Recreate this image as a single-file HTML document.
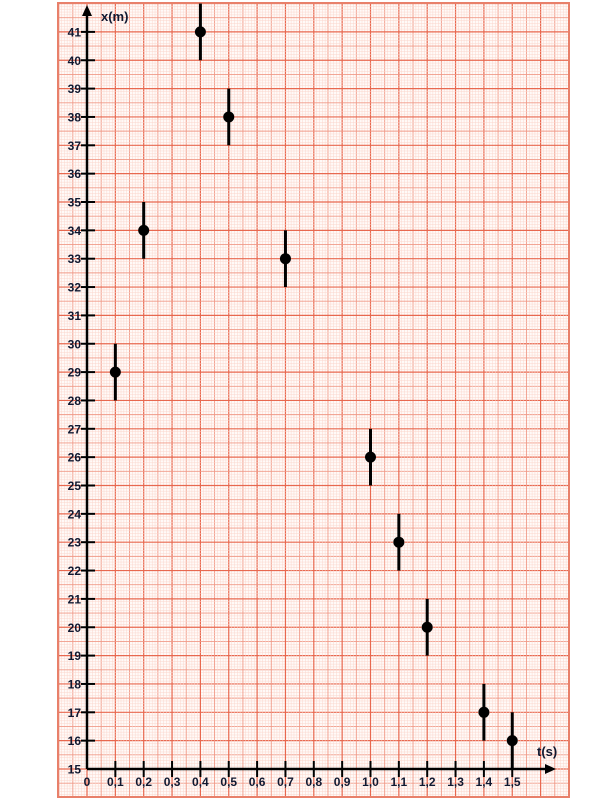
<!DOCTYPE html>
<html><head><meta charset="utf-8"><style>
body{margin:0;background:#fff;width:600px;height:800px;overflow:hidden}
text{font-family:"Liberation Sans",sans-serif;font-weight:bold;fill:#101830}
</style></head><body>
<svg id="c" width="600" height="800" xmlns="http://www.w3.org/2000/svg">
<defs><clipPath id="pc"><rect x="58" y="3" width="511" height="794"/></clipPath></defs>
<g id="grid" clip-path="url(#pc)"></g>
<rect x="58" y="3" width="511" height="794" fill="none" stroke="#e8806a" stroke-width="2"/>
<g id="axes"></g>
<g id="marks" clip-path="url(#pc)"></g>
</svg>
<script>
const tValues=[0.1,0.2,0.4,0.5,0.7,1.0,1.1,1.2,1.4,1.5];
const xValues=[29,34,41,38,33,26,23,20,17,16];
const errValues=[1,1,1,1,1,1,1,1,1,1];
const xTickLabels=["0","0,1","0,2","0,3","0,4","0,5","0,6","0,7","0,8","0,9","1,0","1,1","1,2","1,3","1,4","1,5"];
const yTickLabels=["15","16","17","18","19","20","21","22","23","24","25","26","27","28","29","30","31","32","33","34","35","36","37","38","39","40","41"];
const X0=87,Y0=769,U=28.35;
const sx=t=>X0+t/0.1*U, sy=v=>Y0-(v-15)*U;
const NS="http://www.w3.org/2000/svg";
function mk(tag,a,p){const e=document.createElementNS(NS,tag);for(const k in a)e.setAttribute(k,a[k]);p.appendChild(e);return e;}
const g=document.getElementById('grid');
mk('rect',{x:58,y:3,width:511,height:794,fill:'#fffaf8'},g);
function st(i){return i%10==0?{c:'#e8684f',w:1.2}:i%5==0?{c:'#f09a88',w:0.9}:{c:'#fbd6cc',w:0.5};}
for(let i=-12;i<=300;i++){
  const s=st(((i%10)+10)%10);
  const x=X0+i*U/10;
  if(x>=56&&x<=571){const l=mk('line',{x1:x,y1:0,x2:x,y2:800,stroke:s.c,'stroke-width':s.w},g);}
  const y=Y0-i*U/10;
  if(y>=0&&y<=800){const l=mk('line',{x1:0,y1:y,x2:600,y2:y,stroke:s.c,'stroke-width':s.w},g);}
}
const a=document.getElementById('axes');
let e=mk('line',{x1:X0,y1:Y0,x2:X0,y2:12,stroke:'#000','stroke-width':2.5},a);

mk('polygon',{points:`${X0},5 ${X0-5},16 ${X0+5},16`,fill:'#000'},a);
e=mk('line',{x1:X0,y1:Y0,x2:548,y2:Y0,stroke:'#000','stroke-width':2.5},a);

mk('polygon',{points:`556,${Y0} 545,${Y0-5} 545,${Y0+5}`,fill:'#000'},a);
yTickLabels.forEach((lb,i)=>{const y=sy(15+i);
  if(i>0)mk('line',{x1:X0-6,y1:y,x2:X0+8,y2:y,stroke:'#000','stroke-width':2},a);
  const t=mk('text',{x:X0-6,y:y+4.5,'text-anchor':'end','font-size':12},a);t.textContent=lb;
  });
xTickLabels.forEach((lb,i)=>{const x=sx(i*0.1);
  if(i>0)mk('line',{x1:x,y1:Y0-8,x2:x,y2:Y0+8,stroke:'#000','stroke-width':2},a);
  const t=mk('text',{x:x,y:Y0+17,'text-anchor':'middle','font-size':12},a);t.textContent=lb;
  });
let t=mk('text',{x:101,y:21,'font-size':13},a);t.textContent='x(m)';

t=mk('text',{x:537,y:756,'font-size':13},a);t.textContent='t(s)';

const m=document.getElementById('marks');
tValues.forEach((tv,i)=>{const x=sx(tv),y=sy(xValues[i]);
  const l=mk('line',{x1:x,y1:sy(xValues[i]-errValues[i]),x2:x,y2:sy(xValues[i]+errValues[i]),stroke:'#000','stroke-width':3},m);
  
  const c=mk('circle',{cx:x,cy:y,r:5.5,fill:'#000'},m);
  });
</script>
</body></html>
